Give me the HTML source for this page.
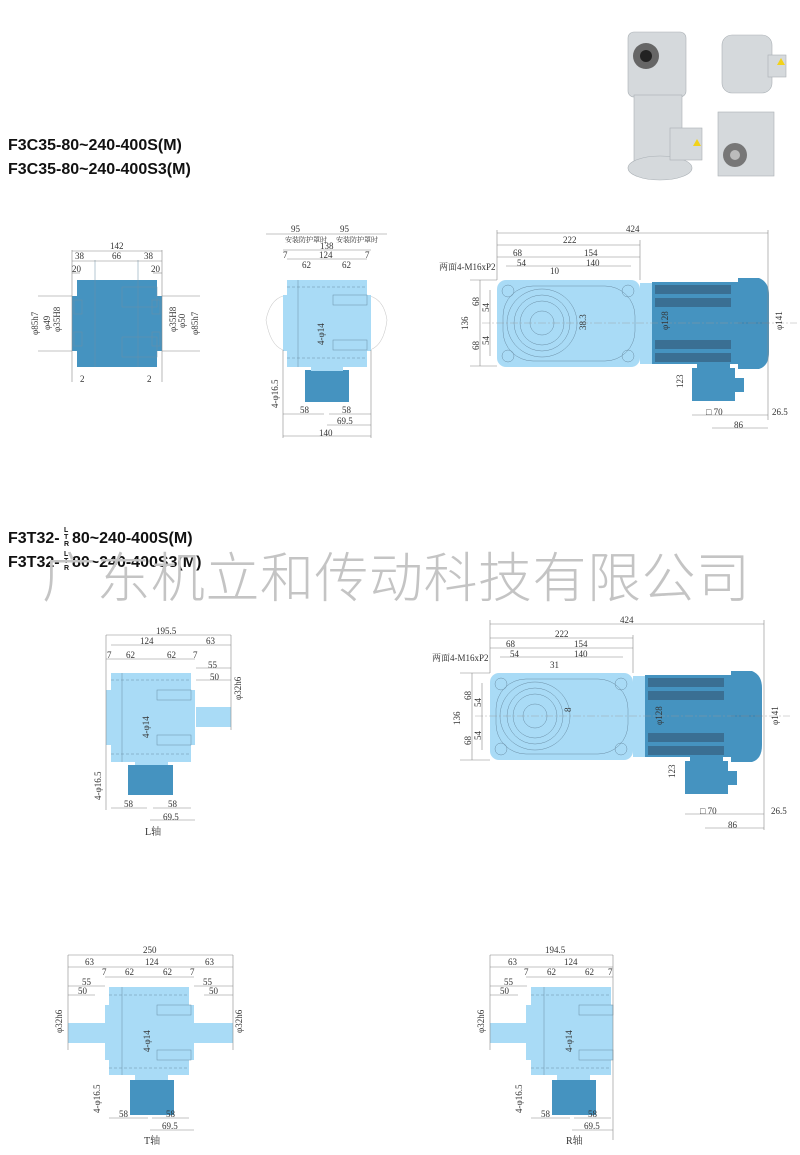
<!DOCTYPE html>
<html><head><meta charset="utf-8"><style>
html,body{margin:0;padding:0;background:#fff;}
svg{display:block}
text{font-family:"Liberation Serif","Noto Serif CJK SC",serif;font-size:9px;fill:#333}
.t{font-family:"Liberation Sans","Noto Sans CJK SC",sans-serif;font-weight:bold;font-size:16px;fill:#111}
.s{font-size:7px;font-weight:bold;font-family:"Liberation Sans",sans-serif;fill:#111}
.d{stroke:#888;stroke-width:0.6;fill:none}
.db{fill:#4593c0}
.lb{fill:#a9dbf6}
.ln{stroke:#6b8fa6;stroke-width:0.5;fill:none}
</style></head><body>
<svg width="800" height="1155" viewBox="0 0 800 1155" xmlns="http://www.w3.org/2000/svg">
<defs>
<g id="rv">
 <rect class="lb" x="0" y="0" width="143" height="87" rx="9"/>
 <rect x="143" y="3" width="12" height="81" class="lb"/>
 <ellipse class="ln" cx="45" cy="43" rx="35" ry="34"/>
 <ellipse class="ln" cx="45" cy="43" rx="28" ry="28"/>
 <ellipse class="ln" cx="45" cy="43" rx="22" ry="22"/>
 <ellipse class="ln" cx="45" cy="43" rx="12" ry="12"/>
 <rect class="ln" x="6" y="6" width="132" height="75" rx="30"/>
 <circle class="ln" cx="11" cy="11" r="6"/><circle class="ln" cx="131" cy="11" r="6"/>
 <circle class="ln" cx="11" cy="76" r="6"/><circle class="ln" cx="131" cy="76" r="6"/>
 <rect class="db" x="155" y="2" width="86" height="82"/>
 <g fill="#3a6f93">
  <rect x="158" y="5" width="76" height="9"/><rect x="158" y="18" width="76" height="9"/>
  <rect x="158" y="60" width="76" height="9"/><rect x="158" y="73" width="76" height="9"/>
 </g>
 <path class="db" d="M241,-2 H262 Q272,2 272,15 V72 Q272,86 262,89 H241 Z"/>
 <line x1="241" y1="43" x2="272" y2="43" stroke="#2e6e96" stroke-width="0.6"/>
 <rect class="db" x="200" y="84" width="33" height="8"/>
 <rect class="db" x="195" y="88" width="43" height="33"/>
 <rect class="db" x="238" y="98" width="9" height="14"/>
 <line x1="-15" y1="43" x2="300" y2="43" stroke="#999" stroke-width="0.4" stroke-dasharray="8 2 2 2"/>
</g>
</defs>

<text class="t" x="8" y="150">F3C35-80~240-400S(M)</text>
<text class="t" x="8" y="174">F3C35-80~240-400S3(M)</text>
<text class="t" x="8" y="543">F3T32-</text><text class="s" x="64" y="532">L</text><text class="s" x="64" y="539">T</text><text class="s" x="64" y="546">R</text><text class="t" x="72" y="543">80~240-400S(M)</text>
<text class="t" x="8" y="567">F3T32-</text><text class="s" x="64" y="556">L</text><text class="s" x="64" y="563">T</text><text class="s" x="64" y="570">R</text><text class="t" x="72" y="567">80~240-400S3(M)</text>
<text x="42" y="597" style="font-family:'Noto Sans CJK SC',sans-serif;font-weight:300;font-size:54px;fill:#c4c4c4;letter-spacing:0.5px">广东机立和传动科技有限公司</text>

<g fill="#d5d9dc" stroke="#aab0b5" stroke-width="0.6">
 <rect x="628" y="32" width="58" height="65" rx="6"/>
 <rect x="634" y="95" width="48" height="68"/>
 <ellipse cx="660" cy="168" rx="32" ry="12"/>
 <rect x="670" y="128" width="32" height="32"/>
 <rect x="722" y="35" width="50" height="58" rx="10"/>
 <rect x="768" y="55" width="18" height="22"/>
 <rect x="718" y="112" width="56" height="64"/>
</g>
<circle cx="646" cy="56" r="13" fill="#666"/><circle cx="646" cy="56" r="6" fill="#222"/>
<circle cx="735" cy="155" r="12" fill="#777"/><circle cx="735" cy="155" r="5" fill="#bbb"/>
<path d="M693,146 l4,-7 4,7z" fill="#f2d21a"/><path d="M777,65 l4,-7 4,7z" fill="#f2d21a"/>

<rect class="db" x="77" y="280" width="80" height="87"/>
<rect class="db" x="72" y="296" width="90" height="55"/>
<g class="ln"><rect x="74" y="300" width="8" height="14"/><rect x="152" y="300" width="8" height="14"/><rect x="74" y="332" width="8" height="14"/><rect x="152" y="332" width="8" height="14"/><line x1="95" y1="260" x2="95" y2="367"/><line x1="138" y1="260" x2="138" y2="367"/><rect x="122" y="287" width="35" height="20"/><rect x="122" y="337" width="35" height="20"/></g>
<g class="d"><line x1="72" y1="251" x2="162" y2="251"/><line x1="72" y1="261" x2="162" y2="261"/><line x1="72" y1="273" x2="80" y2="273"/><line x1="153" y1="273" x2="162" y2="273"/><line x1="72" y1="250" x2="72" y2="382"/><line x1="162" y1="250" x2="162" y2="382"/><line x1="38" y1="296" x2="72" y2="296"/><line x1="38" y1="351" x2="72" y2="351"/><line x1="162" y1="296" x2="200" y2="296"/><line x1="162" y1="351" x2="200" y2="351"/></g>
<text x="110" y="249">142</text><text x="75" y="259">38</text><text x="112" y="259">66</text><text x="144" y="259">38</text><text x="72" y="272">20</text><text x="151" y="272">20</text><text x="80" y="382">2</text><text x="147" y="382">2</text>
<g transform="rotate(-90)"><text x="-335" y="38">φ85h7</text><text x="-330" y="50">φ49</text><text x="-332" y="60">φ35H8</text><text x="-332" y="176">φ35H8</text><text x="-328" y="185">φ50</text><text x="-335" y="198">φ85h7</text></g>

<path d="M283,296 Q270,300 266,320 Q270,345 283,350 M370,296 Q384,300 387,320 Q384,345 370,350" stroke="#ccc" fill="none" stroke-width="0.6"/>
<rect class="lb" x="287" y="280" width="80" height="87"/>
<rect class="lb" x="283" y="295" width="88" height="56"/>
<rect class="db" x="305" y="370" width="44" height="32"/>
<rect class="lb" x="311" y="366" width="32" height="5"/>
<g class="ln"><line x1="298" y1="280" x2="298" y2="367"/><rect x="333" y="295" width="34" height="10"/><rect x="333" y="340" width="34" height="10"/><line x1="287" y1="287" x2="367" y2="287" stroke-dasharray="3 2"/><line x1="287" y1="358" x2="367" y2="358" stroke-dasharray="3 2"/></g>
<g class="d"><line x1="266" y1="234" x2="387" y2="234"/><line x1="283" y1="250" x2="371" y2="250"/><line x1="287" y1="259" x2="367" y2="259"/><line x1="283" y1="350" x2="283" y2="438"/><line x1="371" y1="350" x2="371" y2="438"/><line x1="283" y1="414" x2="324" y2="414"/><line x1="329" y1="414" x2="371" y2="414"/><line x1="327" y1="425" x2="371" y2="425"/><line x1="283" y1="436" x2="371" y2="436"/></g>
<text x="291" y="232">95</text><text x="340" y="232">95</text><text x="285" y="242" style="font-size:7px">安装防护罩时</text><text x="336" y="242" style="font-size:7px">安装防护罩时</text><text x="320" y="249">138</text><text x="283" y="258">7</text><text x="319" y="258">124</text><text x="365" y="258">7</text><text x="302" y="268">62</text><text x="342" y="268">62</text>
<text x="300" y="413">58</text><text x="342" y="413">58</text><text x="337" y="424">69.5</text><text x="319" y="436">140</text>
<g transform="rotate(-90)"><text x="-345" y="324">4-φ14</text><text x="-408" y="278">4-φ16.5</text></g>

<use href="#rv" x="497" y="280"/>
<g class="d"><line x1="497" y1="233" x2="768" y2="233"/><line x1="497" y1="245" x2="640" y2="245"/><line x1="497" y1="257" x2="640" y2="257"/><line x1="506" y1="266" x2="631" y2="266"/><line x1="497" y1="230" x2="497" y2="280"/><line x1="640" y1="240" x2="640" y2="280"/><line x1="768" y1="230" x2="768" y2="420"/><line x1="692" y1="415" x2="768" y2="415"/><line x1="712" y1="428" x2="768" y2="428"/><line x1="470" y1="280" x2="497" y2="280"/><line x1="470" y1="366" x2="497" y2="366"/><line x1="480" y1="280" x2="480" y2="366"/><line x1="490" y1="290" x2="490" y2="356"/></g>
<text x="626" y="232">424</text><text x="563" y="243">222</text><text x="513" y="256">68</text><text x="584" y="256">154</text><text x="517" y="266">54</text><text x="586" y="266">140</text><text x="550" y="274">10</text><text x="439" y="270">两面4-M16xP2</text>
<text x="706" y="415">□ 70</text><text x="772" y="415">26.5</text><text x="734" y="428">86</text>
<g transform="rotate(-90)"><text x="-330" y="468">136</text><text x="-306" y="479">68</text><text x="-350" y="479">68</text><text x="-312" y="489">54</text><text x="-345" y="489">54</text><text x="-330" y="586">38.3</text><text x="-330" y="668">φ128</text><text x="-330" y="782">φ141</text><text x="-388" y="683">123</text></g>

<rect class="lb" x="111" y="673" width="80" height="89"/>
<rect class="lb" x="106" y="690" width="89" height="55"/>
<rect class="lb" x="196" y="707" width="35" height="20"/>
<rect class="lb" x="135" y="761" width="33" height="5"/>
<rect class="db" x="128" y="765" width="45" height="30"/>
<g class="ln"><line x1="122" y1="673" x2="122" y2="762"/><rect x="157" y="690" width="34" height="10"/><rect x="157" y="735" width="34" height="10"/><line x1="111" y1="680" x2="191" y2="680" stroke-dasharray="3 2"/><line x1="111" y1="754" x2="191" y2="754" stroke-dasharray="3 2"/></g>
<g class="d"><line x1="106" y1="635" x2="231" y2="635"/><line x1="111" y1="645" x2="231" y2="645"/><line x1="106" y1="659" x2="195" y2="659"/><line x1="196" y1="668" x2="231" y2="668"/><line x1="196" y1="680" x2="231" y2="680"/><line x1="106" y1="635" x2="106" y2="810"/><line x1="231" y1="635" x2="231" y2="730"/><line x1="111" y1="808" x2="147" y2="808"/><line x1="153" y1="808" x2="191" y2="808"/><line x1="150" y1="820" x2="195" y2="820"/></g>
<text x="156" y="634">195.5</text><text x="140" y="644">124</text><text x="206" y="644">63</text><text x="107" y="658">7</text><text x="126" y="658">62</text><text x="167" y="658">62</text><text x="193" y="658">7</text><text x="208" y="668">55</text><text x="210" y="680">50</text>
<text x="124" y="807">58</text><text x="168" y="807">58</text><text x="163" y="820">69.5</text><text x="145" y="835" style="font-size:10px">L轴</text>
<g transform="rotate(-90)"><text x="-738" y="149">4-φ14</text><text x="-800" y="101">4-φ16.5</text><text x="-700" y="241">φ32h6</text></g>

<use href="#rv" x="490" y="673"/>
<g class="d"><line x1="490" y1="624" x2="764" y2="624"/><line x1="490" y1="638" x2="633" y2="638"/><line x1="490" y1="648" x2="633" y2="648"/><line x1="500" y1="657" x2="623" y2="657"/><line x1="490" y1="620" x2="490" y2="673"/><line x1="633" y1="635" x2="633" y2="673"/><line x1="764" y1="620" x2="764" y2="830"/><line x1="685" y1="814" x2="764" y2="814"/><line x1="705" y1="828" x2="764" y2="828"/><line x1="460" y1="673" x2="490" y2="673"/><line x1="460" y1="760" x2="490" y2="760"/><line x1="472" y1="673" x2="472" y2="760"/><line x1="482" y1="683" x2="482" y2="750"/></g>
<text x="620" y="623">424</text><text x="555" y="637">222</text><text x="506" y="647">68</text><text x="574" y="647">154</text><text x="510" y="657">54</text><text x="574" y="657">140</text><text x="550" y="668">31</text><text x="432" y="661">两面4-M16xP2</text>
<text x="700" y="814">□ 70</text><text x="771" y="814">26.5</text><text x="728" y="828">86</text>
<g transform="rotate(-90)"><text x="-725" y="460">136</text><text x="-700" y="471">68</text><text x="-745" y="471">68</text><text x="-707" y="481">54</text><text x="-740" y="481">54</text><text x="-712" y="571">8</text><text x="-725" y="662">φ128</text><text x="-725" y="778">φ141</text><text x="-778" y="675">123</text></g>

<rect class="lb" x="109" y="987" width="80" height="88"/>
<rect class="lb" x="105" y="1005" width="89" height="55"/>
<rect class="lb" x="68" y="1023" width="37" height="20"/>
<rect class="lb" x="194" y="1023" width="39" height="20"/>
<rect class="lb" x="135" y="1074" width="33" height="6"/>
<rect class="db" x="130" y="1080" width="44" height="35"/>
<g class="ln"><line x1="122" y1="987" x2="122" y2="1075"/><rect x="157" y="1005" width="34" height="10"/><rect x="157" y="1050" width="34" height="10"/><line x1="109" y1="995" x2="189" y2="995" stroke-dasharray="3 2"/><line x1="109" y1="1068" x2="189" y2="1068" stroke-dasharray="3 2"/></g>
<g class="d"><line x1="68" y1="955" x2="233" y2="955"/><line x1="68" y1="967" x2="233" y2="967"/><line x1="105" y1="977" x2="194" y2="977"/><line x1="68" y1="986" x2="105" y2="986"/><line x1="68" y1="995" x2="95" y2="995"/><line x1="194" y1="986" x2="233" y2="986"/><line x1="204" y1="995" x2="233" y2="995"/><line x1="68" y1="955" x2="68" y2="1050"/><line x1="233" y1="955" x2="233" y2="1050"/><line x1="109" y1="1118" x2="148" y2="1118"/><line x1="152" y1="1118" x2="189" y2="1118"/><line x1="150" y1="1130" x2="194" y2="1130"/></g>
<text x="143" y="953">250</text><text x="85" y="965">63</text><text x="145" y="965">124</text><text x="205" y="965">63</text><text x="102" y="975">7</text><text x="125" y="975">62</text><text x="163" y="975">62</text><text x="190" y="975">7</text><text x="82" y="985">55</text><text x="78" y="994">50</text><text x="203" y="985">55</text><text x="209" y="994">50</text>
<text x="119" y="1117">58</text><text x="166" y="1117">58</text><text x="162" y="1129">69.5</text><text x="144" y="1144" style="font-size:10px">T轴</text>
<g transform="rotate(-90)"><text x="-1052" y="150">4-φ14</text><text x="-1113" y="100">4-φ16.5</text><text x="-1033" y="62">φ32h6</text><text x="-1033" y="242">φ32h6</text></g>

<rect class="lb" x="531" y="987" width="80" height="88"/>
<rect class="lb" x="526" y="1005" width="87" height="55"/>
<rect class="lb" x="490" y="1023" width="37" height="20"/>
<rect class="lb" x="557" y="1074" width="33" height="6"/>
<rect class="db" x="552" y="1080" width="44" height="35"/>
<g class="ln"><line x1="544" y1="987" x2="544" y2="1075"/><rect x="579" y="1005" width="34" height="10"/><rect x="579" y="1050" width="34" height="10"/><line x1="531" y1="995" x2="611" y2="995" stroke-dasharray="3 2"/><line x1="531" y1="1068" x2="611" y2="1068" stroke-dasharray="3 2"/></g>
<g class="d"><line x1="490" y1="955" x2="613" y2="955"/><line x1="490" y1="967" x2="613" y2="967"/><line x1="526" y1="977" x2="613" y2="977"/><line x1="490" y1="986" x2="527" y2="986"/><line x1="490" y1="995" x2="518" y2="995"/><line x1="490" y1="955" x2="490" y2="1050"/><line x1="613" y1="955" x2="613" y2="1140"/><line x1="531" y1="1118" x2="570" y2="1118"/><line x1="574" y1="1118" x2="611" y2="1118"/><line x1="572" y1="1130" x2="613" y2="1130"/></g>
<text x="545" y="953">194.5</text><text x="508" y="965">63</text><text x="564" y="965">124</text><text x="524" y="975">7</text><text x="547" y="975">62</text><text x="585" y="975">62</text><text x="608" y="975">7</text><text x="504" y="985">55</text><text x="500" y="994">50</text>
<text x="541" y="1117">58</text><text x="588" y="1117">58</text><text x="584" y="1129">69.5</text><text x="566" y="1144" style="font-size:10px">R轴</text>
<g transform="rotate(-90)"><text x="-1052" y="572">4-φ14</text><text x="-1113" y="522">4-φ16.5</text><text x="-1033" y="484">φ32h6</text></g>
</svg>
</body></html>
